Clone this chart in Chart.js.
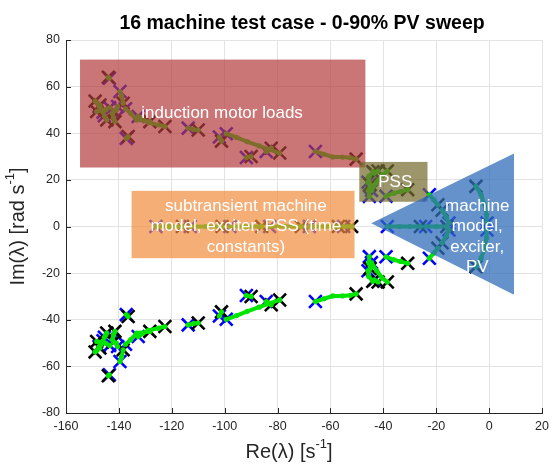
<!DOCTYPE html>
<html>
<head>
<meta charset="utf-8">
<script src="https://cdn.jsdelivr.net/npm/chart.js@4.4.1/dist/chart.umd.min.js"></script>
<style>
  html, body { margin: 0; padding: 0; background: #fff; }
</style>
</head>
<body>
<canvas id="eigChart" width="555" height="466"></canvas>
<script>
// eigenvalue paths, each from 0% PV (first point) to 90% PV (last point)
// lower half-plane only; the upper half is the complex conjugate
const motorPaths = [
    [[-137.2, -37.8], [-136.5, -38.6]],
    [[-143.6, -63.6], [-144.0, -64.0]],
    [[-139.6, -57.9], [-139.0, -56.0], [-138.4, -52.9]],
    [[-147.5, -51.5], [-148.2, -53.0], [-149.0, -53.8]],
    [[-146.0, -49.0], [-146.8, -50.5], [-147.2, -52.1]],
    [[-145.5, -47.5], [-145.0, -46.5], [-144.6, -45.7]],
    [[-142.5, -48.5], [-142.0, -46.5], [-141.5, -45.0]],
    [[-143.5, -51.0], [-145.0, -50.0], [-148.4, -49.3]],
    [[-140.5, -51.5], [-141.0, -50.0], [-142.0, -49.5]],
    [[-137.5, -50.5], [-135.5, -48.5], [-133.3, -45.7], [-128.3, -45.0]],
    [[-132.7, -47.2], [-128.9, -44.6], [-125.0, -43.6], [-122.6, -42.9]],
    [[-113.8, -42.2], [-111.8, -41.6], [-110.0, -41.4]],
    [[-99.4, -39.8], [-95.5, -38.2], [-91.5, -36.4], [-87.0, -34.6], [-83.0, -33.0], [-79.2, -31.5]],
    [[-102.0, -38.4], [-101.2, -36.6]],
    [[-91.8, -29.6], [-90.0, -30.0]],
    [[-84.3, -32.2], [-83.4, -32.9], [-82.4, -33.6]],
    [[-65.7, -32.2], [-62.5, -31.0], [-59.1, -29.8], [-55.5, -29.8], [-52.5, -29.5], [-50.3, -28.9]]
];
const pssPaths = [
    [[-39.0, -13.0], [-36.0, -14.3], [-33.5, -15.0], [-30.8, -15.8]],
    [[-44.5, -15.5], [-42.5, -19.0], [-40.5, -22.0], [-38.5, -23.8]],
    [[-45.3, -12.9], [-45.5, -15.5], [-45.0, -18.0]],
    [[-43.4, -22.9], [-42.0, -23.8]],
    [[-45.8, -19.0], [-45.5, -21.5], [-44.0, -23.5]]
];
const machinePaths = [
    [[-22.6, -13.6], [-21.0, -11.5], [-19.4, -9.3]],
    [[-15.2, -1.5], [-16.2, -4.0], [-17.8, -7.0]],
    [[-0.8, -1.5], [-1.0, -5.0], [-1.8, -9.5], [-3.0, -13.5], [-5.0, -17.2]]
];
// real eigenvalues (Im = 0)
const realPaths = [
    [[-126, 0], [-121, 0], [-116, 0]],
    [[-113, 0], [-107, 0], [-101, 0]],
    [[-98, 0], [-92, 0], [-86, 0]],
    [[-83, 0], [-77, 0], [-71, 0]],
    [[-68, 0], [-62, 0], [-57, 0]],
    [[-55, 0], [-52, 0]],
    [[-38.5, 0], [-34, 0], [-30, 0], [-26, 0]],
    [[-24, 0], [-20, 0], [-16, 0]]
];

const xTicks = [-160, -140, -120, -100, -80, -60, -40, -20, 0, 20];
const yTicks = [-80, -60, -40, -20, 0, 20, 40, 60, 80];

// annotation regions, in data units
const annotBoxes = [
    { x0: -154.7, x1: -46.8, y0: 25.3, y1: 71.6, color: 'rgba(180,60,60,0.7)',
      lines: ['induction motor loads'], tx: -101, ty: 48.5 },
    { x0: -135.2, x1: -50.9, y0: -13.6, y1: 15.3, color: 'rgba(240,140,60,0.7)',
      lines: ['subtransient machine', 'model, exciter, PSS (time', 'constants)'], tx: -92, ty: 0 },
    { x0: -49.1, x1: -23.3, y0: 10.6, y1: 27.7, color: 'rgba(120,110,50,0.72)',
      lines: ['PSS'], tx: -35.5, ty: 19 }
];
const triangle = { pts: [[-44.6, 1.4], [9.4, 31.3], [9.4, -29.3]], color: 'rgba(50,110,185,0.75)',
    lines: ['machine', 'model,', 'exciter,', 'PV'], tx: -4.5, ty: -4.5 };

const conj = path => path.map(([re, im]) => [re, -im]);
const allPaths = [
    ...motorPaths, ...motorPaths.map(conj),
    ...pssPaths, ...pssPaths.map(conj),
    ...machinePaths, ...machinePaths.map(conj),
    ...realPaths
];
const toXY = ([x, y]) => ({ x, y });

const FONT = '"Liberation Sans", Arial, sans-serif';
const GREEN = '#00e400';

const pathSets = allPaths.map(p => ({
    data: p.map(toXY),
    showLine: true,
    borderColor: GREEN,
    borderWidth: 4,
    pointRadius: 2.6,
    pointBackgroundColor: GREEN,
    pointBorderWidth: 0,
    order: 1
}));

const overlayPlugin = {
    id: 'overlay',
    afterDatasetsDraw(chart) {
        const { ctx, scales: { x, y }, chartArea } = chart;
        ctx.save();
        ctx.beginPath();
        ctx.rect(chartArea.left, chartArea.top, chartArea.width, chartArea.height);
        ctx.clip();
        const textLines = (lines, tx, ty) => {
            ctx.fillStyle = '#fff';
            ctx.font = '17px ' + FONT;
            ctx.textAlign = 'center';
            ctx.textBaseline = 'middle';
            const lh = 20.5;
            const cx = x.getPixelForValue(tx), cy = y.getPixelForValue(ty);
            lines.forEach((t, i) => ctx.fillText(t, cx, cy + (i - (lines.length - 1) / 2) * lh));
        };
        annotBoxes.forEach(b => {
            const px0 = x.getPixelForValue(b.x0), px1 = x.getPixelForValue(b.x1);
            const py0 = y.getPixelForValue(b.y1), py1 = y.getPixelForValue(b.y0);
            ctx.fillStyle = b.color;
            ctx.fillRect(px0, py0, px1 - px0, py1 - py0);
        });
        ctx.fillStyle = triangle.color;
        ctx.beginPath();
        triangle.pts.forEach(([a, b], i) => {
            const px = x.getPixelForValue(a), py = y.getPixelForValue(b);
            if (i === 0) ctx.moveTo(px, py); else ctx.lineTo(px, py);
        });
        ctx.closePath();
        ctx.fill();
        annotBoxes.forEach(b => textLines(b.lines, b.tx, b.ty));
        textLines(triangle.lines, triangle.tx, triangle.ty);
        ctx.restore();
    },
    afterDraw(chart) {
        const { ctx, scales: { x, y }, chartArea } = chart;
        ctx.save();
        // inward tick marks
        ctx.strokeStyle = '#262626';
        ctx.lineWidth = 1;
        ctx.beginPath();
        xTicks.forEach(v => {
            const px = Math.round(x.getPixelForValue(v)) + 0.5;
            ctx.moveTo(px, chartArea.bottom);
            ctx.lineTo(px, chartArea.bottom - 5);
        });
        yTicks.forEach(v => {
            const py = Math.round(y.getPixelForValue(v)) + 0.5;
            ctx.moveTo(chartArea.left, py);
            ctx.lineTo(chartArea.left + 5, py);
        });
        ctx.stroke();

        // title
        ctx.fillStyle = '#000';
        ctx.textAlign = 'center';
        ctx.textBaseline = 'alphabetic';
        ctx.font = 'bold 19.5px ' + FONT;
        ctx.fillText('16 machine test case - 0-90% PV sweep', (chartArea.left + chartArea.right) / 2 - 2, 29);

        // axis labels with superscripts
        const drawLabel = (parts, cx, cy, rot) => {
            ctx.save();
            ctx.translate(cx, cy);
            ctx.rotate(rot);
            ctx.fillStyle = '#262626';
            ctx.textAlign = 'left';
            ctx.textBaseline = 'middle';
            const big = '20px ' + FONT, small = '13px ' + FONT;
            let w = 0;
            parts.forEach(p => { ctx.font = p.sup ? small : big; w += ctx.measureText(p.t).width; });
            let px = -w / 2;
            parts.forEach(p => {
                ctx.font = p.sup ? small : big;
                ctx.fillText(p.t, px, p.sup ? -8 : 0);
                px += ctx.measureText(p.t).width;
            });
            ctx.restore();
        };
        const midX = (chartArea.left + chartArea.right) / 2;
        drawLabel([{ t: 'Re(λ) [s' }, { t: '-1', sup: true }, { t: ']' }], midX - 15, 452, 0);
        drawLabel([{ t: 'Im(λ) [rad s' }, { t: '-1', sup: true }, { t: ']' }], 18, (chartArea.top + chartArea.bottom) / 2, -Math.PI / 2);
        ctx.restore();
    }
};

new Chart(document.getElementById('eigChart'), {
    type: 'scatter',
    data: {
        datasets: [
            ...pathSets,
            {
                data: allPaths.map(p => toXY(p[p.length - 1])),
                pointStyle: 'crossRot',
                pointRadius: 9,
                borderColor: '#000',
                borderWidth: 2.6,
                order: 2
            },
            {
                data: allPaths.map(p => toXY(p[0])),
                pointStyle: 'crossRot',
                pointRadius: 9,
                borderColor: '#0000ff',
                borderWidth: 2.6,
                order: 3
            }
        ]
    },
    options: {
        responsive: false,
        animation: false,
        events: [],
        layout: { padding: { top: 40, right: 12, left: 0, bottom: 0 } },
        plugins: { legend: { display: false }, title: { display: false }, tooltip: { enabled: false } },
        scales: {
            x: {
                type: 'linear',
                min: -160,
                max: 20,
                afterBuildTicks: s => { s.ticks = xTicks.map(v => ({ value: v })); },
                afterFit: s => { s.height = 53; },
                ticks: { font: { size: 12.5, family: FONT }, color: '#262626', padding: 6 },
                grid: { color: '#e3e3e3', drawTicks: false },
                border: { display: true, color: '#262626', width: 1 }
            },
            y: {
                type: 'linear',
                min: -80,
                max: 80,
                afterBuildTicks: s => { s.ticks = yTicks.map(v => ({ value: v })); },
                afterFit: s => { s.width = 66; },
                ticks: { font: { size: 12.5, family: FONT }, color: '#262626', padding: 6 },
                grid: { color: '#e3e3e3', drawTicks: false },
                border: { display: true, color: '#262626', width: 1 }
            }
        }
    },
    plugins: [overlayPlugin]
});
</script>
</body>
</html>
